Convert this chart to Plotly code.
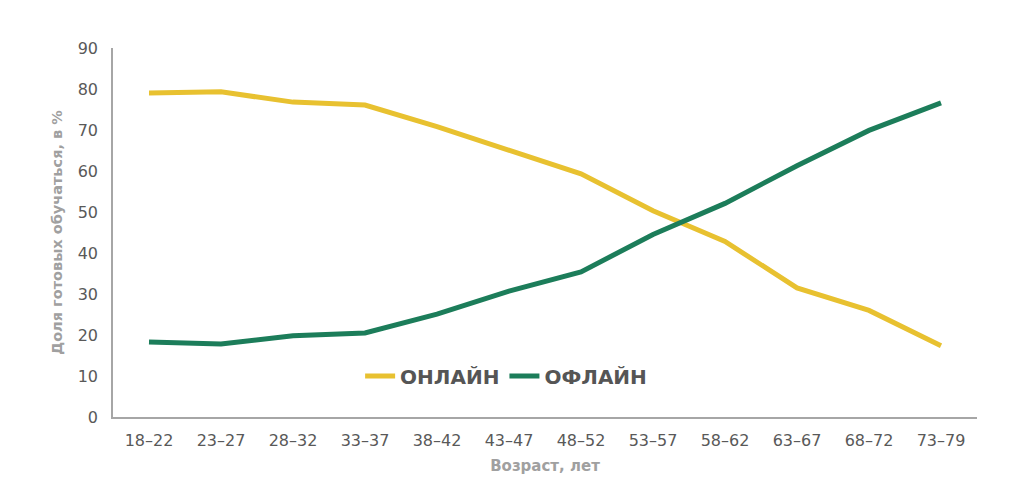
import plotly.graph_objects as go

categories = ["18–22", "23–27", "28–32", "33–37", "38–42", "43–47",
              "48–52", "53–57", "58–62", "63–67", "68–72", "73–79"]
online = [79.0, 79.3, 76.8, 76.1, 70.8, 65.1, 59.3, 50.3, 42.8, 31.5, 26.0, 17.4]
offline = [18.3, 17.8, 19.8, 20.5, 25.1, 30.7, 35.4, 44.5, 52.1, 61.3, 69.9, 76.6]
y_ticks = [0, 10, 20, 30, 40, 50, 60, 70, 80, 90]

fig = go.Figure()
fig.add_trace(go.Scatter(x=categories, y=online, mode="lines", name="ОНЛАЙН",
                         line=dict(color="#E8C130", width=5)))
fig.add_trace(go.Scatter(x=categories, y=offline, mode="lines", name="ОФЛАЙН",
                         line=dict(color="#1C7D5A", width=5)))

fig.update_layout(
    width=1024, height=500,
    margin=dict(l=113, r=47, t=48, b=83),
    paper_bgcolor="white", plot_bgcolor="white",
    font=dict(family="DejaVu Sans", color="#595959"),
    legend=dict(orientation="h", x=0.455, xanchor="center", y=0.111, yanchor="middle",
                font=dict(size=20, color="#555555", family="DejaVu Sans", weight="bold"),
                itemwidth=30, bgcolor="rgba(0,0,0,0)"),
    xaxis=dict(type="category", range=[-0.5, 11.5], showgrid=False, showline=True,
               linecolor="#A6A6A6", linewidth=1.5, ticks="outside", ticklen=8,
               tickcolor="rgba(0,0,0,0)", tickfont=dict(size=16, color="#595959"),
               title=dict(text="Возраст, лет", font=dict(size=15, color="#A0A0A0", weight="bold"),
                          standoff=12)),
    yaxis=dict(range=[0, 90], tickvals=y_ticks, showgrid=False, showline=True,
               linecolor="#A6A6A6", linewidth=1.5, ticks="outside", ticklen=10,
               tickcolor="rgba(0,0,0,0)", zeroline=False,
               tickfont=dict(size=16, color="#595959"),
               title=dict(text="Доля готовых обучаться, в %",
                          font=dict(size=14.5, color="#A0A0A0", weight="bold"), standoff=12)),
)

fig.write_html("out.html")
